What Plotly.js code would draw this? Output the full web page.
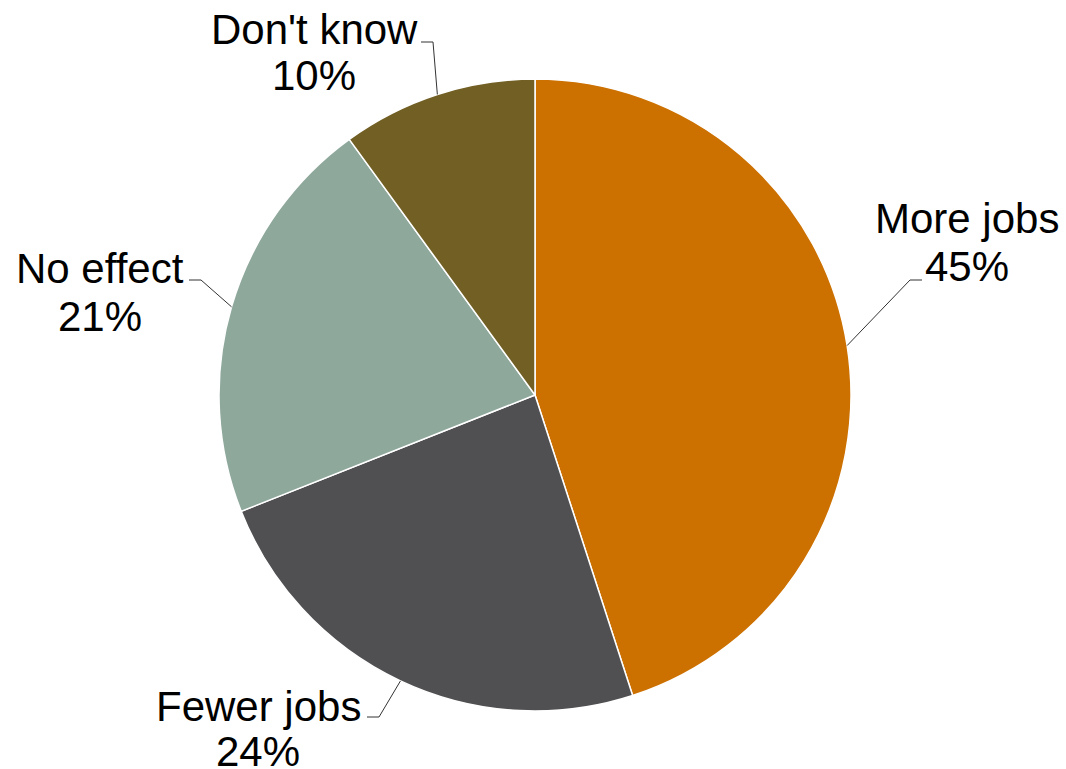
<!DOCTYPE html>
<html>
<head>
<meta charset="utf-8">
<script src="https://cdn.plot.ly/plotly-3.0.1.min.js"></script>
<style>html,body{margin:0;padding:0;background:#fff;}#chart{width:1066px;height:769px;}</style>
</head>
<body>
<div id="chart"></div>
<script>
// ---- data ----
const categories = ["More jobs", "Fewer jobs", "No effect", "Don't know"];
const values = [45, 24, 21, 10];
const colors = ["#CC7000", "#505052", "#8FA89C", "#715F24"];

// ---- layout constants (pixels) ----
const W = 1066, H = 769;
const cx = 535, cy = 395, R = 316;
// label line centers: [x, y line1, y line2]
const labelPos = [[967, 219, 266], [258, 706, 751], [100, 268, 316], [314, 29, 76]];
// elbow and end of the leader line
const elbow = [[[910, 280], [922, 280]], [[379, 717], [367, 717]], [[201, 280], [189, 280]], [[433, 42], [421, 42]]];

const px = x => x / W, py = y => 1 - y / H;
const total = values.reduce((a, b) => a + b, 0);

const annotations = [], shapes = [];
let cum = 0;
values.forEach((v, i) => {
  const mid = (cum + v / 2) / total * 2 * Math.PI; // clockwise from 12 o'clock
  cum += v;
  const ex = cx + R * Math.sin(mid), ey = cy - R * Math.cos(mid);
  const pct = Math.round(v / total * 100) + "%";
  const lp = labelPos[i];
  const font = {family: "'Liberation Sans', Arial, sans-serif", size: 42, color: "#000"};
  annotations.push({text: categories[i], x: px(lp[0]), y: py(lp[1]), xref: "paper", yref: "paper", showarrow: false, xanchor: "center", yanchor: "middle", font});
  annotations.push({text: pct, x: px(lp[0]), y: py(lp[2]), xref: "paper", yref: "paper", showarrow: false, xanchor: "center", yanchor: "middle", font});
  const [e1, e2] = elbow[i];
  const line = {color: "#333", width: 1};
  shapes.push({type: "line", xref: "paper", yref: "paper", x0: px(ex), y0: py(ey), x1: px(e1[0]), y1: py(e1[1]), line});
  shapes.push({type: "line", xref: "paper", yref: "paper", x0: px(e1[0]), y0: py(e1[1]), x1: px(e2[0]), y1: py(e2[1]), line});
});

const trace = {
  type: "pie",
  labels: categories,
  values: values,
  sort: false,
  direction: "clockwise",
  rotation: 0,
  marker: {colors: colors, line: {color: "#ffffff", width: 1.5}},
  textinfo: "none",
  hoverinfo: "label+percent",
  domain: {x: [px(cx - R), px(cx + R)], y: [py(cy + R), py(cy - R)]}
};

Plotly.newPlot("chart", [trace], {
  width: W, height: H,
  margin: {l: 0, r: 0, t: 0, b: 0},
  showlegend: false,
  paper_bgcolor: "#fff",
  annotations: annotations,
  shapes: shapes
}, {displayModeBar: false, staticPlot: true});
</script>
</body>
</html>
